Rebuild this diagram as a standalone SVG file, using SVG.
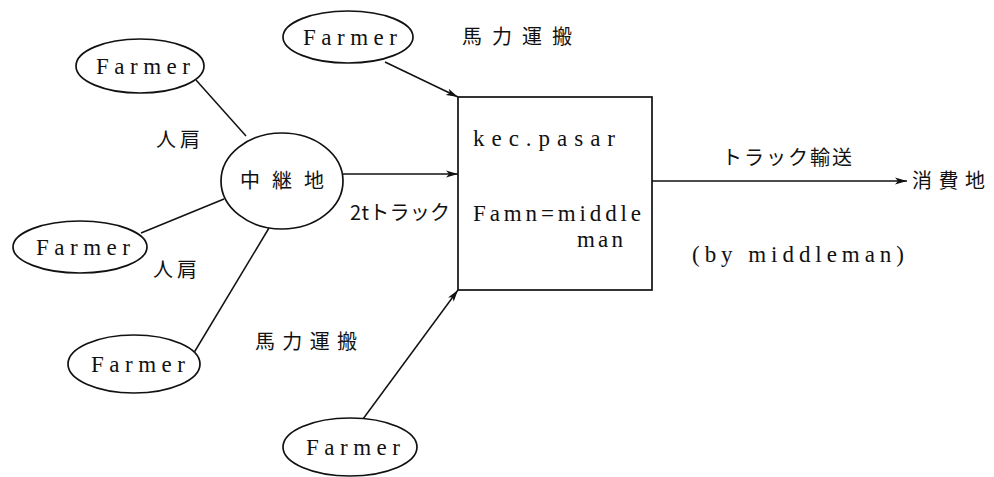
<svg xmlns="http://www.w3.org/2000/svg" width="994" height="477" viewBox="0 0 994 477">
<style>
.n{fill:#fff;stroke:#111;stroke-width:1.7}
.c{fill:none;stroke:#111;stroke-width:1.5}
.t{font-family:"Liberation Serif","Noto Sans CJK JP",serif;font-size:23px;fill:#111}
.j{font-family:"Noto Sans CJK JP","Noto Sans CJK SC",sans-serif;font-size:20px;fill:#111}
</style>
<defs>
<marker id="ah" viewBox="0 0 12 8" refX="12" refY="4" markerWidth="12" markerHeight="8" markerUnits="userSpaceOnUse" orient="auto">
<path d="M0,0.5 L12,4 L0,7.5 L3,4 Z" fill="#111"/>
</marker>
</defs>
<rect width="994" height="477" fill="#fff"/>
<g id="connectors">
<line class="c" x1="196" y1="80" x2="246" y2="136"/>
<line class="c" x1="141" y1="233" x2="224" y2="199"/>
<line class="c" x1="192" y1="356" x2="269" y2="228"/>
<line class="c" x1="343" y1="174" x2="458" y2="174" marker-end="url(#ah)"/>
<line class="c" x1="385" y1="62" x2="458" y2="97" marker-end="url(#ah)"/>
<line class="c" x1="363" y1="419" x2="458" y2="290" marker-end="url(#ah)"/>
<line class="c" x1="652" y1="181" x2="907" y2="181" marker-end="url(#ah)"/>
</g>
<g id="farmer1"><ellipse class="n" cx="140" cy="66" rx="64" ry="27"/><text class="t" x="96" y="74" textLength="94" lengthAdjust="spacing">Farmer</text></g>
<g id="farmer2"><ellipse class="n" cx="348" cy="37" rx="65" ry="26"/><text class="t" x="303" y="45" textLength="94" lengthAdjust="spacing">Farmer</text></g>
<g id="farmer3"><ellipse class="n" cx="80" cy="247" rx="67" ry="26"/><text class="t" x="36" y="255" textLength="94" lengthAdjust="spacing">Farmer</text></g>
<g id="farmer4"><ellipse class="n" cx="134" cy="364" rx="66" ry="29"/><text class="t" x="91" y="372" textLength="94" lengthAdjust="spacing">Farmer</text></g>
<g id="farmer5"><ellipse class="n" cx="350" cy="447" rx="67" ry="29"/><text class="t" x="306" y="455" textLength="94" lengthAdjust="spacing">Farmer</text></g>
<g id="hub"><ellipse class="n" cx="282" cy="181" rx="61" ry="48"/><text class="j" x="240" y="188" textLength="84" lengthAdjust="spacing">中継地</text></g>
<g id="market"><rect class="n" x="458" y="97" width="194" height="193"/>
<text class="t" x="473" y="146" textLength="142" lengthAdjust="spacing">kec.pasar</text>
<text class="t" x="473" y="221" textLength="168" lengthAdjust="spacing">Famn=middle</text>
<text class="t" x="577" y="247" textLength="46" lengthAdjust="spacing">man</text>
</g>
<g id="consumer"><text class="j" x="912" y="188" textLength="73" lengthAdjust="spacing">消費地</text></g>
<g id="labels">
<text class="j" x="156" y="147" textLength="44" lengthAdjust="spacing">人肩</text>
<text class="j" x="153" y="277" textLength="44" lengthAdjust="spacing">人肩</text>
<text class="j" x="462" y="44" textLength="110" lengthAdjust="spacing">馬力運搬</text>
<text class="j" x="255" y="349" textLength="102" lengthAdjust="spacing">馬力運搬</text>
<text class="j" x="350" y="220" textLength="100" lengthAdjust="spacing">2tトラック</text>
<text class="j" x="722" y="165" textLength="130" lengthAdjust="spacing">トラック輸送</text>
<text class="t" x="692" y="262" textLength="212" lengthAdjust="spacing">(by middleman)</text>
</g>
</svg>
